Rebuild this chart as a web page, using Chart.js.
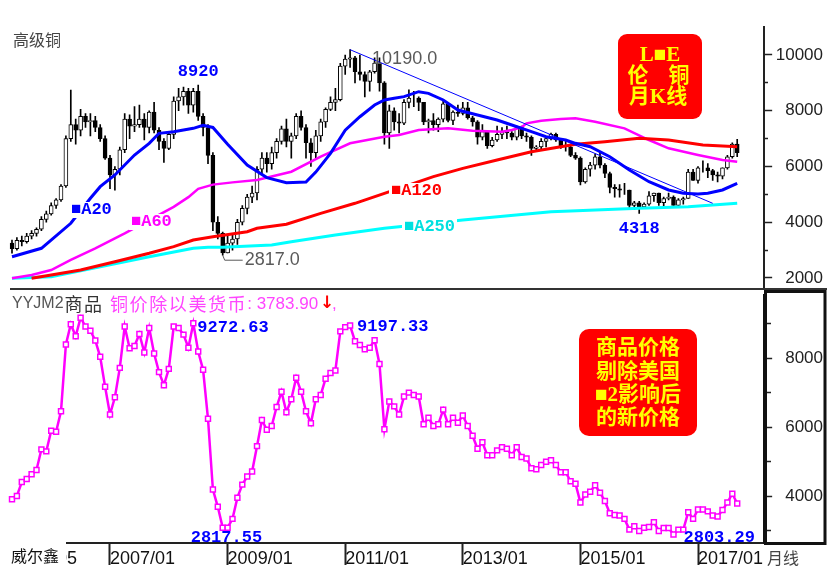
<!DOCTYPE html>
<html>
<head>
<meta charset="utf-8">
<script src="https://cdn.jsdelivr.net/npm/chart.js@4.4.1/dist/chart.umd.min.js"></script>
<style>
  html, body { margin: 0; padding: 0; background: #fff; }
  #wrap { position: relative; width: 827px; height: 575px; overflow: hidden; }
  #top { position: absolute; left: 0; top: 0; }
  #bot { position: absolute; left: 0; top: 290px; }
</style>
</head>
<body>
<div id="wrap">
  <canvas id="top" width="827" height="290"></canvas>
  <canvas id="bot" width="827" height="285"></canvas>
</div>
<script>
// monthly categories, 2005/05 .. 2018/02 (data stops at 2017/09)
const months = [];
for (let k = 0; k < 154; k++) {
  const m = 4 + k;
  months.push((2005 + Math.floor(m / 12)) + '/' + String(m % 12 + 1).padStart(2, '0'));
}
const xTickLabels = ['2005/05', '2007/01', '2009/01', '2011/01', '2013/01', '2015/01', '2017/01'];

// LME copper monthly candles
const openP = [3250,3050,3350,3300,3500,3600,3750,4100,4300,4600, 4800,5300,7000,7500,7300,7800,7600,7650,7400,7000,
  6300,5700,5900,6600,7700,7450,7500,7700,7400,7950, 7300,6900,6650,7150,8350,8500,8700,8200,8700,7800,
  7400,6400,4000,3600,2900,3250,3400,4000,4500,4900, 5050,5900,6300,6100,6500,6900,7350,6900,7100,7800,
  7400,6850,6500,7100,7600,8050,8300,8400,9600,9850, 9900,9400,9300,9050,9400,9700,9000,7200,8000,7600,
  7550,8300,8450,8450,8300,7600,7650,7500,7700,8250, 7650,7950,7900,8100,7750,7600,7050,7250,6750,6950,
  7150,7250,7200,7050,7400,7100,7050,6650,6700,6900, 7000,7150,6950,6700,6700,6400,6300,5450,5900,6050,
  6350,6050,5750,5250,5200,5150,5150,4600,4700,4550, 4650,4950,5050,4700,4850,4900,4600,4800,4850,5800,
  5500,5950,5950,5850,5700,5650,5950,6350,6800];
const highP = [3360,3450,3500,3600,3700,3800,4200,4400,4700,4850, 5350,7100,8744,7700,8050,7900,7900,7800,7500,7100,
  6400,6000,6700,7900,7850,8150,8200,7900,8000,8300, 7400,7000,7250,8500,8800,8850,8800,8800,8920,7900,
  7500,6500,4200,3650,3500,3600,4100,4600,5000,5300, 6000,6500,6500,6700,7000,7450,7700,7200,7900,8000,
  7500,7000,7300,7700,8100,8500,8800,9700,10000,10190, 9950,10000,9400,9450,9900,9900,9050,8200,8100,7900,
  8400,8750,8700,8500,8300,7700,7900,7750,8350,8300, 8000,8200,8300,8300,7800,7650,7500,7300,7050,7450,
  7400,7450,7250,7450,7450,7200,7100,6750,7000,7050, 7200,7200,7000,6900,6800,6500,6350,5950,6150,6450,
  6500,6100,5800,5350,5350,5400,5150,4750,4750,4700, 5100,5050,5050,4900,5050,4950,4850,4900,5900,5900,
  6000,6200,6100,5900,5800,5950,6400,6850,6970];
const lowP = [2890,3000,3150,3250,3400,3500,3700,4000,4250,4500, 4750,5250,6900,6800,7100,7400,7100,7250,6900,6250,
  5200,5150,5700,6500,7000,7250,7400,6950,7200,7200, 6600,6150,6600,7000,8000,8200,7900,7950,7650,7100,
  6100,3700,3400,2817,2900,3000,3200,3900,4300,4700, 4800,5700,5800,5900,6300,6800,6700,6300,7000,7300,
  6300,6000,6300,6900,7400,8000,8000,8350,9300,9550, 9000,9100,8500,8700,9350,8700,6800,6650,7300,7200,
  7500,8100,8150,8000,7500,7200,7300,7250,7600,7600, 7500,7800,7850,7700,7450,6800,6950,6650,6700,6900,
  7000,7000,6950,6950,7000,6900,6400,6550,6600,6700, 6950,6900,6650,6550,6350,6250,5340,5400,5650,5900,
  5950,5600,5050,4900,4900,5000,4450,4450,4318,4500, 4600,4750,4600,4500,4800,4600,4600,4650,4850,5500,
  5400,5800,5600,5500,5450,5550,5900,6300,6350];
const closeP = [3050,3350,3300,3500,3600,3750,4100,4300,4600,4800, 5300,7000,7500,7300,7800,7600,7650,7400,7000,6300,
  5700,5900,6600,7700,7450,7500,7700,7400,7950,7300, 6900,6650,7150,8350,8500,8700,8200,8700,7800,7400,
  6400,4000,3600,2900,3250,3400,4000,4500,4900,5050, 5900,6300,6100,6500,6900,7350,6900,7100,7800,7400,
  6850,6500,7100,7600,8050,8300,8400,9600,9850,9900, 9400,9300,9050,9400,9700,9000,7200,8000,7600,7550,
  8300,8450,8450,8300,7600,7650,7500,7700,8250,7650, 7950,7900,8100,7750,7600,7050,7250,6750,6950,7150,
  7250,7200,7050,7400,7100,7050,6650,6700,6900,7000, 7150,6950,6700,6700,6400,6300,5450,5900,6050,6350,
  6050,5750,5250,5200,5150,5150,4600,4700,4550,4650, 4950,5050,4700,4850,4900,4600,4800,4850,5800,5500,
  5950,5950,5850,5700,5650,5950,6350,6800,6500];

// moving averages, read at sample months (index from 2005/05)
const ma20Pos = [0,6,12,16,18,21,25,28,30,33,37,39,41,44,48,52,56,60,62,65,68,71,74,76,78,80,83,85,88,91,95,99,102,106,109,113,115,118,122,126,130,134,137,140,142,145,148];
const ma20Val = [2764,3065,3962,4859,5275,5695,6412,6831,7190,7249,7369,7480,7400,6800,6050,5600,5420,5440,5800,6470,7300,7786,8206,8385,8445,8505,8683,8624,8385,8026,7847,7667,7488,7249,7069,6950,6831,6710,6351,5874,5455,5157,5038,5013,5038,5157,5397];
const ma60Pos = [0,4,8,12,17,21,23,33,36,38,41,45,50,57,63,69,76,79,83,89,94,100,102,104,105,108,112,115,119,125,130,134,140,145,148];
const ma60Val = [1990,2108,2287,2646,3065,3424,3603,4550,4900,5200,5350,5430,5515,5813,6351,6831,7069,7130,7309,7369,7284,7249,7309,7405,7549,7643,7703,7728,7607,7369,6950,6651,6412,6233,6172];
const ma120Pos = [4,8,14,21,28,33,37,41,48,50,56,63,70,76,86,92,99,106,115,121,128,134,141,148];
const ma120Val = [1990,2108,2287,2585,2886,3123,3363,3481,3661,3783,3930,4320,4679,5038,5635,5934,6233,6531,6800,6890,7010,6950,6771,6710];
const ma250Pos = [0,8,18,28,37,40,43,53,57,66,76,79,92,110,114,128,138,148];
const ma250Val = [1990,2047,2405,2764,3065,3100,3100,3184,3302,3542,3783,3840,4080,4378,4400,4500,4558,4679];
const trendPos = [69, 143];
const trendVal = [10190, 4679];

// copper divided by US M2 (lower panel)
const ratioVals = [3906,4000,4406,4492,4634,4757,5353,5296,5892,5863, 6459,8397,8984,8633,9173,8917,8794,8511,8038,7168,
  6364,6866,7717,8917,8284,8350,8700,8161,8871,8133, 7594,7215,7688,8917,8871,8681,8303,9012,8190,7660,
  6241,4189,3688,3083,3083,3338,3953,4331,4567,4709, 5447,6204,5921,6033,6582,7026,6431,6809,7433,7026,
  6459,6109,6809,6931,7404,7566,7640,8775,8899,8945, 8491,8378,8256,8303,8519,7830,5938,6743,6601,6364,
  6885,6999,6931,6885,6080,6270,6033,6080,6506,6080, 6270,6128,6335,6033,5750,5370,5560,5183,5183,5325,
  5419,5370,5183,5419,5135,5087,4804,4775,4899,4993, 5040,4899,4690,4690,4426,4359,3810,4047,4123,4312,
  4095,3858,3499,3451,3433,3338,3026,3121,2988,3083, 3102,3243,2988,3073,3073,2885,3026,3026,3527,3338,
  3612,3612,3555,3433,3404,3593,3810,4066,3784];

const topTicks = [2000,2500,3000,3500,4000,4500,5000,5500,6000,6500,7000,7500,8000,8500,9000,9500,10000];
const botTicks = [3000,3500,4000,4500,5000,5500,6000,6500,7000,7500,8000,8500,9000];

const pts = (pos, val) => pos.map((p, i) => ({ x: months[p], y: val[i] }));
const isUp = i => closeP[i] >= openP[i];

function txt(ctx, s, x, y, font, color, align, bg, spacing) {
  ctx.font = font;
  ctx.letterSpacing = spacing || '0px';
  ctx.textAlign = align || 'left';
  ctx.textBaseline = 'middle';
  const w = ctx.measureText(s).width;
  if (bg) {
    const x0 = align === 'center' ? x - w / 2 : x;
    ctx.fillStyle = bg;
    ctx.fillRect(x0 - 2, y - 8, w + 4, 16);
  }
  ctx.fillStyle = color;
  ctx.fillText(s, x, y);
  ctx.letterSpacing = '0px';
  return w;
}

const maFont = 'bold 17px "Liberation Mono", "DejaVu Sans Mono"';
const numFont = 'bold 17px "Liberation Mono"';
const grayFont = '18px "Liberation Sans"';
const boxFont = 'bold 21px "Liberation Serif", "Noto Sans CJK SC"';
const cjk16 = '16px "Noto Sans CJK SC"';
const cjk18 = '18px "Noto Sans CJK SC"';

// right axis: labels end 4px from the edge, no extra label padding so the plot keeps its full height
const yAxisFit = s => { s.width = 58.85; s.paddingTop = 0; s.paddingBottom = 0; };

const topDeco = {
  id: 'topDeco',
  afterDraw(chart) {
    const { ctx, scales: { x, y } } = chart;
    const px = i => x.getPixelForValue(i);
    ctx.save();
    txt(ctx, '高级铜', 13, 40, cjk16, '#444');

    txt(ctx, '■A20', 71, 210, maFont, '#0000ff', 'left', '#fff');
    txt(ctx, '■A60', 131, 222, maFont, '#ff00ff', 'left', '#fff');
    txt(ctx, '■A120', 391, 191, maFont, '#ff0000', 'left', '#fff');
    txt(ctx, '■A250', 404, 227, maFont, '#00e0e0', 'left', '#fff');

    txt(ctx, '8920', px(38), y.getPixelForValue(8920) - 13, numFont, '#0000ff', 'center');
    txt(ctx, '4318', px(128), y.getPixelForValue(4318) + 15, numFont, '#0000ff', 'center');
    txt(ctx, '10190.0', px(69) + 22, y.getPixelForValue(10190) + 9, grayFont, '#5a5a5a');

    const lx = px(43), ly = y.getPixelForValue(2817);
    ctx.strokeStyle = '#5a5a5a';
    ctx.lineWidth = 1;
    ctx.beginPath();
    ctx.moveTo(lx, ly);
    ctx.lineTo(lx + 2, ly + 5);
    ctx.lineTo(lx + 20, ly + 5);
    ctx.stroke();
    txt(ctx, '2817.0', lx + 22, ly + 5, grayFont, '#5a5a5a');

    // red note box
    ctx.fillStyle = '#ff0000';
    ctx.beginPath();
    ctx.roundRect(618, 34, 84, 85, 9);
    ctx.fill();
    txt(ctx, 'L■E', 660, 56, boxFont, '#ffff00', 'center');
    txt(ctx, '伦', 638, 77, boxFont, '#ffff00', 'center');
    txt(ctx, '铜', 679, 77, boxFont, '#ffff00', 'center');
    txt(ctx, '月K线', 658, 98, boxFont, '#ffff00', 'center');

    ctx.fillStyle = '#333';
    ctx.fillRect(10, 288, 817, 2);
    ctx.restore();
  }
};

new Chart(document.getElementById('top'), {
  type: 'bar',
  data: {
    labels: months,
    datasets: [
      { type: 'line', data: pts(trendPos, trendVal), borderColor: '#0000ff', borderWidth: 1, pointRadius: 0, order: 0 },
      { type: 'line', data: pts(ma20Pos, ma20Val), borderColor: '#0000ff', borderWidth: 3, pointRadius: 0, order: 1 },
      { type: 'line', data: pts(ma120Pos, ma120Val), borderColor: '#ff0000', borderWidth: 3, pointRadius: 0, order: 2 },
      { type: 'line', data: pts(ma60Pos, ma60Val), borderColor: '#ff00ff', borderWidth: 2.5, pointRadius: 0, order: 3 },
      { type: 'line', data: pts(ma250Pos, ma250Val), borderColor: '#00ffff', borderWidth: 3, pointRadius: 0, order: 4 },
      {
        data: openP.map((o, i) => [o, closeP[i]]),
        grouped: false, barThickness: 4, borderWidth: 1, borderSkipped: false,
        borderColor: '#000',
        backgroundColor: c => isUp(c.dataIndex) ? '#fff' : '#000',
        order: 5
      },
      {
        data: lowP.map((l, i) => [l, highP[i]]),
        grouped: false, barThickness: 1, backgroundColor: '#000',
        order: 6
      }
    ]
  },
  options: {
    responsive: false,
    animation: false,
    devicePixelRatio: 1,
    layout: { padding: { left: 9.55, right: 4, top: 27, bottom: 1 } },
    plugins: { legend: { display: false }, tooltip: { enabled: false } },
    scales: {
      x: { display: false, offset: true },
      y: {
        position: 'right', min: 1605, max: 11004,
        afterFit: yAxisFit,
        afterBuildTicks: s => { s.ticks = topTicks.map(v => ({ value: v })); },
        border: { color: '#222', width: 2 },
        grid: {
          drawOnChartArea: false, tickLength: 8, tickColor: '#222', tickWidth: 1.5,
          tickBorderDash: c => (c.tick && c.tick.value % 2000) ? [3, 20] : []
        },
        ticks: {
          crossAlign: 'far', padding: 0, color: '#222',
          font: { family: 'Liberation Sans', size: 17 },
          callback: v => v % 2000 === 0 ? String(v) : ''
        }
      }
    }
  },
  plugins: [topDeco]
});

const botDeco = {
  id: 'botDeco',
  afterDraw(chart) {
    const { ctx, scales: { x, y } } = chart;
    const px = i => x.getPixelForValue(i);
    ctx.save();
    ctx.lineWidth = 3;
    ctx.strokeStyle = '#111';
    ctx.strokeRect(765.5, 1.5, 59.5, 252);

    ctx.fillStyle = '#fff';
    ctx.fillRect(0, 251, 66, 34);
    txt(ctx, '威尔鑫', 11, 266, cjk16, '#111');
    txt(ctx, '月线', 767, 268, cjk16, '#444');

    const w1 = txt(ctx, 'YYJM2', 12, 14, '16px "Liberation Sans"', '#555');
    txt(ctx, '商品', 13 + w1, 14, cjk18, '#333', 'left', null, '1.5px');
    const w2 = txt(ctx, '铜价除以美货币', 110, 14, cjk18, '#ff44ff', 'left', null, '1.6px');
    const w3 = txt(ctx, ': 3783.90', 110 + w2, 14, '17px "Liberation Sans"', '#ff44ff');
    txt(ctx, '↓', 112 + w2 + w3, 14, 'bold 17px "DejaVu Sans"', '#ff0000');
    txt(ctx, ',', 124 + w2 + w3, 14, '17px "Liberation Sans"', '#ff44ff');

    txt(ctx, '9272.63', px(37) + 4, y.getPixelForValue(ratioVals[37]) + 4, numFont, '#0000ff');
    txt(ctx, '9197.33', px(69) + 7, y.getPixelForValue(ratioVals[69]) + 1, numFont, '#0000ff');
    txt(ctx, '2817.55', px(43) - 32, y.getPixelForValue(ratioVals[43]) + 10, numFont, '#0000ff');
    txt(ctx, '2803.29', px(135) + 10, y.getPixelForValue(ratioVals[135]) + 3, numFont, '#0000ff');

    // note box
    ctx.fillStyle = '#ff0000';
    ctx.beginPath();
    ctx.roundRect(579, 39, 118, 107, 10);
    ctx.fill();
    txt(ctx, '商品价格', 638, 59, boxFont, '#ffff00', 'center');
    txt(ctx, '剔除美国', 638, 83, boxFont, '#ffff00', 'center');
    txt(ctx, '■2影响后', 638, 106, boxFont, '#ffff00', 'center');
    txt(ctx, '的新价格', 638, 129, boxFont, '#ffff00', 'center');
    ctx.restore();
  }
};

new Chart(document.getElementById('bot'), {
  type: 'line',
  data: {
    labels: months,
    datasets: [{
      data: ratioVals,
      borderColor: '#ff00ff', borderWidth: 2.5,
      pointStyle: 'rect', pointRadius: 3.5, pointBorderWidth: 1.5,
      pointBackgroundColor: '#fff', pointBorderColor: '#ff00ff'
    }]
  },
  options: {
    responsive: false,
    animation: false,
    devicePixelRatio: 1,
    layout: { padding: { left: 9.55, right: 4, top: 0, bottom: 0 } },
    plugins: { legend: { display: false }, tooltip: { enabled: false } },
    scales: {
      x: {
        offset: true,
        afterFit: s => { s.height = 32; },
        afterBuildTicks: s => { s.ticks = s.ticks.filter(t => xTickLabels.includes(months[t.value])); },
        border: { color: '#222', width: 2 },
        grid: { offset: false, drawOnChartArea: false, tickLength: 22, tickColor: '#222', tickWidth: 2 },
        ticks: {
          autoSkip: false, maxRotation: 0, align: 'start', padding: -17, color: '#111',
          font: { family: 'Liberation Sans', size: 18 }
        }
      },
      y: {
        position: 'right', min: 2638, max: 9816,
        afterFit: yAxisFit,
        afterBuildTicks: s => { s.ticks = botTicks.map(v => ({ value: v })); },
        border: { color: '#111', width: 3 },
        grid: {
          drawOnChartArea: false, tickLength: 8, tickColor: '#222', tickWidth: 1.5,
          tickBorderDash: c => (c.tick && c.tick.value % 2000) ? [5, 20] : []
        },
        ticks: {
          crossAlign: 'far', padding: 0, color: '#222',
          font: { family: 'Liberation Sans', size: 17 },
          callback: v => v % 2000 === 0 ? String(v) : ''
        }
      }
    }
  },
  plugins: [botDeco]
});
</script>
</body>
</html>
